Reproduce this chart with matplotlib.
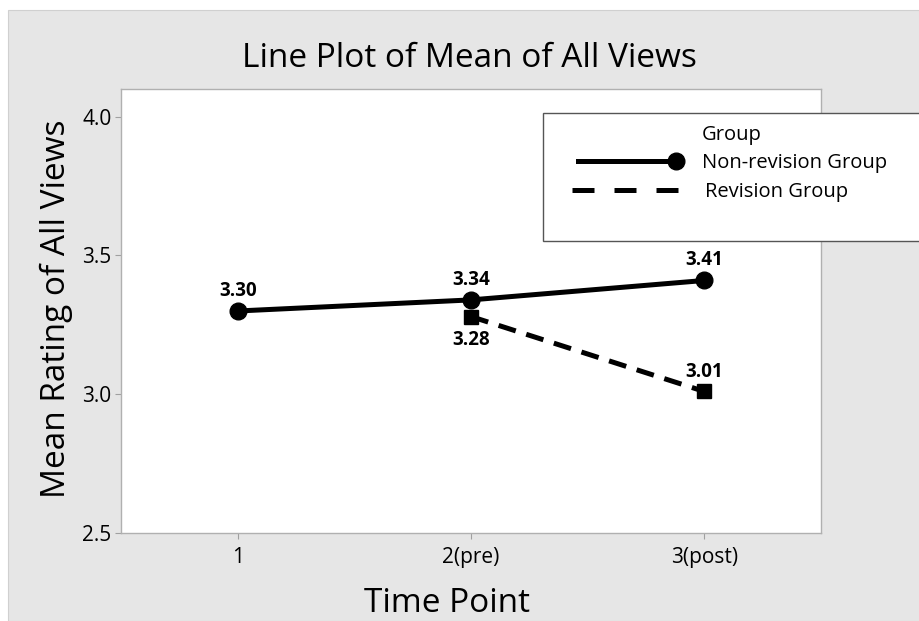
import matplotlib.pyplot as plt
from matplotlib.patches import Rectangle
from matplotlib.lines import Line2D

plt.rcParams['font.family'] = ['Open Sans', 'DejaVu Sans']

time_labels = ['1', '2(pre)', '3(post)']
nonrev_x = [1, 2, 3]
nonrev_mean = [3.30, 3.34, 3.41]
rev_x = [2, 3]
rev_mean = [3.28, 3.01]

W, H = 919, 621

def fx(px):
    return px / W

def fy(py):
    return 1 - py / H

fig = plt.figure(figsize=(W / 100, H / 100), dpi=100)
fig.patch.set_facecolor('white')
# grey panel behind everything
fig.patches.append(Rectangle((fx(8), 0), 1, fy(10), transform=fig.transFigure,
                             facecolor='#e6e6e6', edgecolor='#d0d0d0', lw=0.8, zorder=-10))

ax = fig.add_axes([fx(121), fy(533), 700 / W, 444 / H])
ax.set_facecolor('white')

ax.plot(nonrev_x, nonrev_mean, color='black', lw=3.6, marker='o', ms=12, zorder=3)
ax.plot(rev_x, rev_mean, color='black', lw=3.6, ls=(0, (3.6, 2.2)), marker='s', ms=9.5, zorder=3)

lab = dict(textcoords='offset points', ha='center', va='center', fontsize=13.5, fontweight='bold')
for x, y in zip(nonrev_x, nonrev_mean):
    ax.annotate(f'{y:.2f}', (x, y), xytext=(0, 14.5), **lab)
ax.annotate(f'{rev_mean[0]:.2f}', (rev_x[0], rev_mean[0]), xytext=(0, -17), **lab)
ax.annotate(f'{rev_mean[1]:.2f}', (rev_x[1], rev_mean[1]), xytext=(0, 14), **lab)

ax.set_xlim(0.5, 3.5)
ax.set_ylim(2.5, 4.1)
ax.set_xticks(nonrev_x)
ax.set_xticklabels(time_labels)
ax.set_yticks([2.5, 3.0, 3.5, 4.0])
ax.set_yticklabels(['2.5', '3.0', '3.5', '4.0'])
ax.tick_params(length=4, color='#a0a0a0', labelsize=15)
ax.tick_params(axis='x', pad=6)
ax.tick_params(axis='y', pad=3)
for s in ax.spines.values():
    s.set_color('#b0b0b0')
    s.set_linewidth(1)

fig.text(fx(469), fy(67), 'Line Plot of Mean of All Views', ha='center', va='baseline',
         fontsize=24, fontweight='medium')
fig.text(fx(447), fy(612), 'Time Point', ha='center', va='baseline', fontsize=24,
         fontweight='medium')
fig.text(fx(73), fy(309), 'Mean Rating of All Views', ha='right', va='center',
         fontsize=24, fontweight='medium', rotation=90)

# legend box, partly past the right edge of the plot area
fig.patches.append(Rectangle((fx(543), fy(241)), 400 / W, 128 / H,
                             transform=fig.transFigure, facecolor='white',
                             edgecolor='#555555', lw=1, zorder=5))
fig.text(fx(702), fy(135), 'Group', ha='left', va='center', fontsize=14.5, zorder=6)
fig.lines.append(Line2D([fx(578), fx(676)], [fy(161), fy(161)],
                        transform=fig.transFigure, color='black', lw=3.6, zorder=6))
fig.lines.append(Line2D([fx(676)], [fy(161)], transform=fig.transFigure,
                        marker='o', ms=12, color='black', zorder=6))
fig.text(fx(702), fy(163), 'Non-revision Group', ha='left', va='center', fontsize=14.5, zorder=6)
fig.lines.append(Line2D([fx(572), fx(678)], [fy(190), fy(190)],
                        transform=fig.transFigure, color='black', lw=3.6,
                        ls=(0, (4.4, 4.0)), zorder=6))
fig.text(fx(705), fy(192), 'Revision Group', ha='left', va='center', fontsize=14.5, zorder=6)

fig.savefig('out.png', dpi=100)
